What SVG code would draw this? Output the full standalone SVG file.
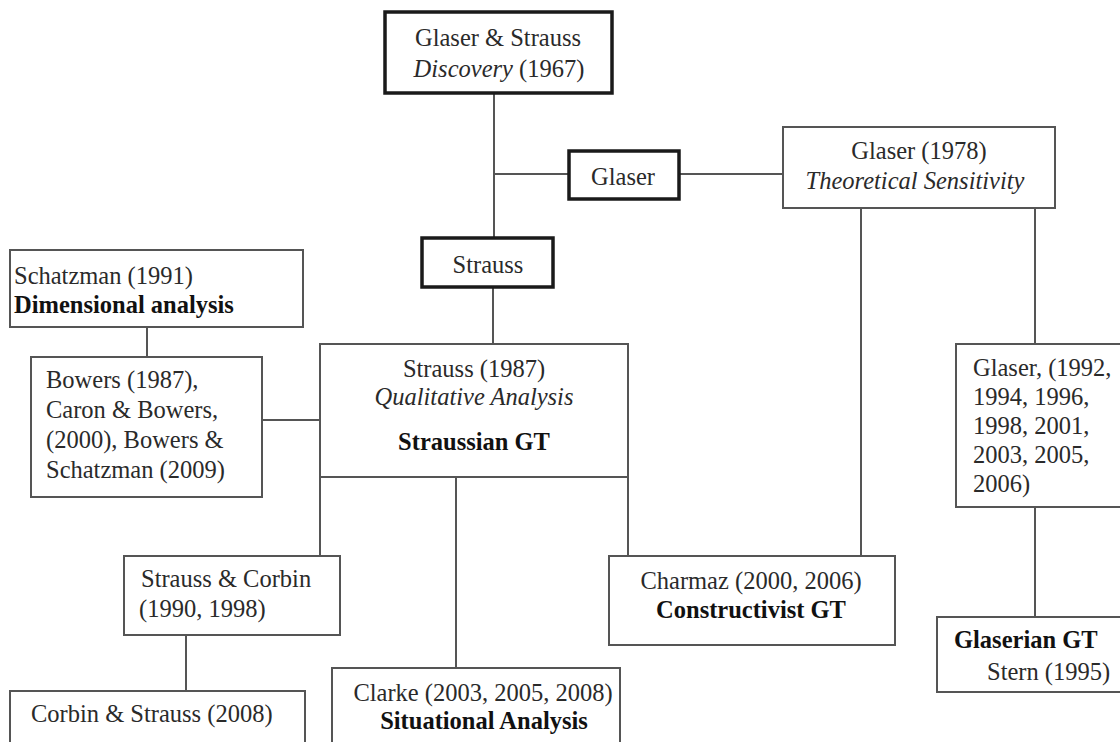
<svg xmlns="http://www.w3.org/2000/svg" width="1120" height="742" viewBox="0 0 1120 742" font-family="'Liberation Serif', Tinos, 'Times New Roman', Times, 'DejaVu Serif', serif">
<style>
text{font-family:'Liberation Serif',Tinos,'Times New Roman',Times,'DejaVu Serif',serif;font-size:24.5px;fill:#2a2a2a}
.c{text-anchor:middle}
.b{font-weight:bold;fill:#111}
.i{font-style:italic}
.thin{fill:#fff;stroke:#555;stroke-width:2}
.thick{fill:#fff;stroke:#1a1a1a;stroke-width:3.5}
.ln{stroke:#555;stroke-width:2;fill:none}
</style>
<rect width="1120" height="742" fill="#fff"/>
<g id="connectors">
<line class="ln" x1="494" y1="93" x2="494" y2="238"/>
<line class="ln" x1="494" y1="174" x2="569" y2="174"/>
<line class="ln" x1="679" y1="174" x2="783" y2="174"/>
<line class="ln" x1="493" y1="287" x2="493" y2="344"/>
<line class="ln" x1="147" y1="327" x2="147" y2="357"/>
<line class="ln" x1="262" y1="420" x2="320" y2="420"/>
<line class="ln" x1="320" y1="477" x2="320" y2="556"/>
<line class="ln" x1="456" y1="477" x2="456" y2="668"/>
<line class="ln" x1="628" y1="477" x2="628" y2="556"/>
<line class="ln" x1="186" y1="635" x2="186" y2="691"/>
<line class="ln" x1="861" y1="208" x2="861" y2="556"/>
<line class="ln" x1="1035" y1="208" x2="1035" y2="344"/>
<line class="ln" x1="1035" y1="507" x2="1035" y2="617"/>
</g>
<g id="n-discovery">
<rect class="thick" x="385" y="12" width="227" height="81"/>
<text class="c" x="498" y="46">Glaser &amp; Strauss</text>
<text class="c" x="499" y="77"><tspan class="i">Discovery</tspan> (1967)</text>
</g>
<g id="n-glaser">
<rect class="thick" x="569" y="151" width="110" height="48"/>
<text class="c" x="623" y="185">Glaser</text>
</g>
<g id="n-glaser1978">
<rect class="thin" x="783" y="127" width="272" height="81"/>
<text class="c" x="919" y="159">Glaser (1978)</text>
<text class="c i" x="915" y="189">Theoretical Sensitivity</text>
</g>
<g id="n-strauss">
<rect class="thick" x="422" y="238" width="131" height="49"/>
<text class="c" x="488" y="273">Strauss</text>
</g>
<g id="n-schatzman">
<rect class="thin" x="10" y="250" width="293" height="77"/>
<text x="14" y="284">Schatzman (1991)</text>
<text class="b" x="14" y="313">Dimensional analysis</text>
</g>
<g id="n-bowers">
<rect class="thin" x="31" y="357" width="231" height="140"/>
<text x="46" y="388">Bowers (1987),</text>
<text x="46" y="418">Caron &amp; Bowers,</text>
<text x="46" y="448">(2000), Bowers &amp;</text>
<text x="46" y="478">Schatzman (2009)</text>
</g>
<g id="n-strauss1987">
<rect class="thin" x="320" y="344" width="308" height="133"/>
<text class="c" x="474" y="377">Strauss (1987)</text>
<text class="c i" x="474" y="405">Qualitative Analysis</text>
<text class="c b" x="474" y="450">Straussian GT</text>
</g>
<g id="n-glaser1992">
<rect class="thin" x="956" y="344" width="180" height="163"/>
<text x="973" y="376">Glaser, (1992,</text>
<text x="973" y="405">1994, 1996,</text>
<text x="973" y="434">1998, 2001,</text>
<text x="973" y="463">2003, 2005,</text>
<text x="973" y="492">2006)</text>
</g>
<g id="n-strausscorbin">
<rect class="thin" x="124" y="556" width="216" height="79"/>
<text x="141" y="587">Strauss &amp; Corbin</text>
<text x="139" y="617">(1990, 1998)</text>
</g>
<g id="n-corbinstrauss">
<rect class="thin" x="10" y="691" width="295" height="70"/>
<text x="31" y="722">Corbin &amp; Strauss (2008)</text>
</g>
<g id="n-clarke">
<rect class="thin" x="332" y="668" width="288" height="90"/>
<text class="c" x="483" y="701">Clarke (2003, 2005, 2008)</text>
<text class="c b" x="484" y="729">Situational Analysis</text>
</g>
<g id="n-charmaz">
<rect class="thin" x="609" y="556" width="286" height="89"/>
<text class="c" x="751" y="589">Charmaz (2000, 2006)</text>
<text class="c b" x="751" y="618">Constructivist GT</text>
</g>
<g id="n-glaserian">
<rect class="thin" x="937" y="617" width="200" height="75"/>
<text class="b" x="954" y="648">Glaserian GT</text>
<text x="987" y="680">Stern (1995)</text>
</g>
</svg>
